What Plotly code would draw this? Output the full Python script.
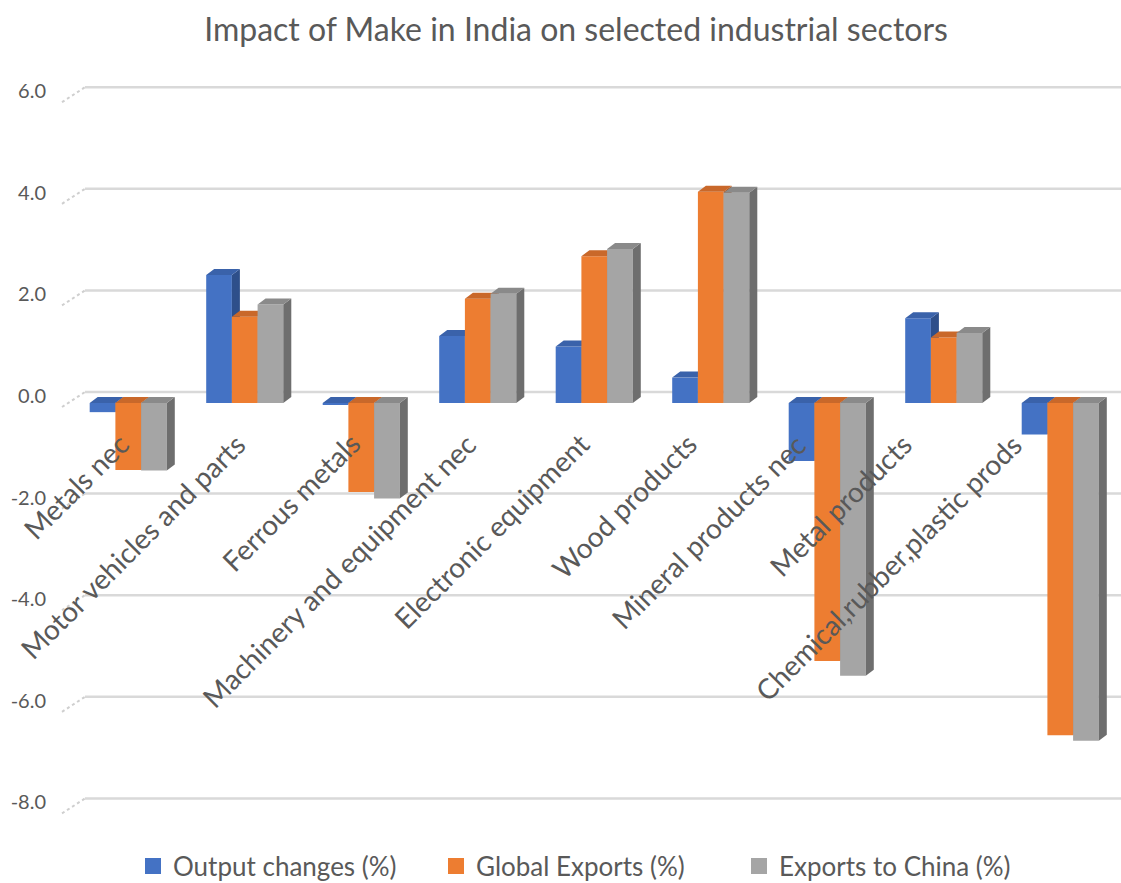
import plotly.graph_objects as go

# ---- data -----------------------------------------------------------------
categories = [
    "Metals nec",
    "Motor vehicles and parts",
    "Ferrous metals",
    "Machinery and equipment nec",
    "Electronic equipment",
    "Wood products",
    "Mineral products nec",
    "Metal products",
    "Chemical,rubber,plastic prods",
]
output_changes = [-0.18, 2.52, -0.03, 1.32, 1.11, 0.50, -1.14, 1.67, -0.62]
global_exports = [-1.32, 1.70, -1.75, 2.05, 2.89, 4.16, -5.08, 1.29, -6.54]
exports_china = [-1.33, 1.94, -1.88, 2.15, 3.03, 4.14, -5.37, 1.38, -6.65]
series_names = ["Output changes (%)", "Global Exports (%)", "Exports to China (%)"]
y_ticks = [-8, -6, -4, -2, 0, 2, 4, 6]

# ---- styling --------------------------------------------------------------
FRONT = ["#4472C4", "#ED7D31", "#A5A5A5"]
TOP = ["#3A62AA", "#C9682A", "#8A8A8A"]
SIDE = ["#2E4F8A", "#B0561C", "#6E6E6E"]
TEXT = "#595959"
GRID = "#D9D9D9"
FONT = "Lato"

W, H = 1121, 883
M = dict(l=85, r=0, t=60, b=43, autoexpand=False)
X_RANGE = [-0.3712, 8.5215]
Y_RANGE = [-8.602, 6.752]
px_per_x = (W - M["l"] - M["r"]) / (X_RANGE[1] - X_RANGE[0])
px_per_y = (H - M["t"] - M["b"]) / (Y_RANGE[1] - Y_RANGE[0])

BAR_W = 0.2206                  # width of one bar's front face (category units)
DX = 8 / px_per_x               # depth of a bar, horizontal
DY = 6 / px_per_y               # depth of a bar, vertical
WALL = 11 / px_per_y            # back wall (gridlines) sits behind the bars
LABEL_SHIFT = [2, 2, 0, 0, -4, -13, -20, -31, -37]

xs = list(range(len(categories)))
series = [output_changes, global_exports, exports_china]

fig = go.Figure()

for k, values in enumerate(series):
    yaxis = "y" if k == 0 else f"y{k + 1}"
    offset = (k - 1.5) * BAR_W
    # front faces
    fig.add_trace(go.Bar(
        x=xs, y=values, width=BAR_W, offset=offset,
        marker=dict(color=FRONT[k], line=dict(width=0)),
        name=series_names[k], showlegend=False, yaxis=yaxis,
        customdata=categories,
        hovertemplate="%{customdata}<br>%{y:.2f}<extra>" + series_names[k] + "</extra>",
    ))
    # side and top faces built from each bar's value
    side_x, side_y, top_x, top_y = [], [], [], []
    for i, v in zip(xs, values):
        xl = i + offset
        xr = xl + BAR_W
        side_x += [xr, xr, xr + DX, xr + DX, xr, None]
        side_y += [0, v, v + DY, DY, 0, None]
        t = max(v, 0)
        top_x += [xl, xr, xr + DX, xl + DX, xl, None]
        top_y += [t, t, t + DY, t + DY, t, None]
    fig.add_trace(go.Scatter(
        x=side_x, y=side_y, mode="lines", fill="toself", fillcolor=SIDE[k],
        line=dict(width=0), hoverinfo="skip", showlegend=False, yaxis=yaxis,
    ))
    fig.add_trace(go.Scatter(
        x=top_x, y=top_y, mode="lines", fill="toself", fillcolor=TOP[k],
        line=dict(width=0), hoverinfo="skip", showlegend=False, yaxis=yaxis,
    ))

# legend entries with square swatches
for k in range(3):
    fig.add_trace(go.Scatter(
        x=[None], y=[None], mode="markers", name=series_names[k],
        marker=dict(symbol="square", size=16, color=FRONT[k]),
    ))

# back-wall gridlines with their slanted side-wall edge
shapes = []
for v in y_ticks:
    shapes.append(dict(
        type="line", layer="below", xref="paper", yref="y",
        x0=0, x1=1, y0=v + WALL, y1=v + WALL,
        line=dict(color=GRID, width=2.5),
    ))
    shapes.append(dict(
        type="line", layer="below", xref="paper", yref="y",
        xsizemode="pixel", xanchor=0, x0=-23, x1=0,
        ysizemode="pixel", yanchor=v + WALL, y0=-15, y1=0,
        line=dict(color="#CFCFCF", width=2, dash="dot"),
    ))

# category labels along the floor edge
annotations = []
for i, name in enumerate(categories):
    annotations.append(dict(
        x=i, y=0, xref="x", yref="y", text=name, showarrow=False,
        textangle=-45, xanchor="right", yanchor="top",
        xshift=LABEL_SHIFT[i] + 8, yshift=-21,
        font=dict(family=FONT, size=28, color=TEXT),
    ))

fig.update_layout(
    width=W, height=H, margin=M,
    paper_bgcolor="white", plot_bgcolor="white",
    barmode="overlay",
    title=dict(
        text="Impact of Make in India on selected industrial sectors",
        x=576 / W, xref="container", xanchor="center",
        y=1 - 30 / H, yref="container", yanchor="middle",
        font=dict(family=FONT, size=32, color=TEXT),
    ),
    xaxis=dict(range=X_RANGE, showgrid=False, zeroline=False,
               showticklabels=False, ticks="", showline=False, fixedrange=True),
    yaxis=dict(range=Y_RANGE, showgrid=False, zeroline=False, showline=False,
               tickvals=y_ticks, ticktext=[f"{v:.1f}" for v in y_ticks],
               ticks="", ticklabelstandoff=38, ticklabelshift=-7,
               tickfont=dict(family=FONT, size=20, color=TEXT), fixedrange=True),
    yaxis2=dict(range=Y_RANGE, overlaying="y", visible=False, fixedrange=True),
    yaxis3=dict(range=Y_RANGE, overlaying="y", visible=False, fixedrange=True),
    legend=dict(
        orientation="h", x=(133 - M["l"]) / (W - M["l"]), xanchor="left",
        y=-26 / (H - M["t"] - M["b"]), yanchor="middle",
        entrywidth=258,
        font=dict(family=FONT, size=26, color=TEXT),
    ),
    shapes=shapes,
    annotations=annotations,
    showlegend=True,
)

fig.write_html("out.html")
